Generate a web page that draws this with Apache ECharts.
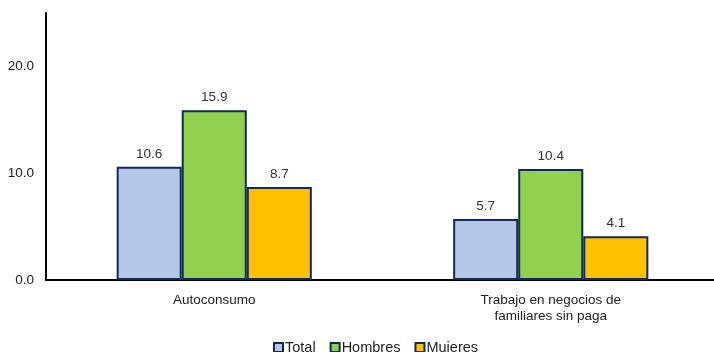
<!DOCTYPE html>
<html>
<head>
<meta charset="utf-8">
<script src="https://cdn.jsdelivr.net/npm/echarts@6/dist/echarts.min.js"></script>
<style>
  html, body { margin: 0; padding: 0; background: #ffffff; }
  #chart { width: 714px; height: 352px; }
</style>
</head>
<body>
<div id="chart"></div>
<script>
// Categories and values (percent)
const categories = ['Autoconsumo', 'Trabajo en negocios de\nfamiliares sin paga'];
const total = [10.6, 5.7];
const hombres = [15.9, 10.4];
const mujeres = [8.7, 4.1];
const seriesNames = ['Total', 'Hombres', 'Mujeres'];
const seriesColors = ['#b4c7e7', '#92d050', '#ffc000'];
const yTicks = [0, 10, 20];

const chart = echarts.init(document.getElementById('chart'));
const borderColor = '#102a5c';
const labelFont = 'Liberation Sans';

function barSeries(name, data, color) {
  return {
    name: name,
    type: 'bar',
    data: data,
    barGap: '0%',
    barCategoryGap: '42%',
    itemStyle: { color: color, borderColor: borderColor, borderWidth: 2 },
    label: {
      show: true,
      position: 'top',
      distance: 6,
      formatter: p => p.value.toFixed(1),
      color: '#333333',
      fontFamily: labelFont,
      fontSize: 13.5
    }
  };
}

chart.setOption({
  animation: false,
  grid: { left: 46, width: 673, top: 13, height: 267, outerBoundsMode: 'none' },
  legend: {
    data: seriesNames,
    top: 335,
    left: 268,
    itemWidth: 9,
    itemHeight: 9,
    itemGap: 14,
    icon: 'rect',
    textStyle: { fontFamily: labelFont, fontSize: 14.5, color: '#222222', padding: [0, 0, 0, -3] }
  },
  xAxis: {
    type: 'category',
    data: categories,
    axisLine: { lineStyle: { color: '#000000', width: 2 } },
    axisTick: { show: false },
    axisLabel: { fontFamily: labelFont, fontSize: 13.5, color: '#222222', margin: 12, lineHeight: 16 }
  },
  yAxis: {
    type: 'value',
    min: 0,
    max: 25,
    interval: 10,
    axisLine: { show: true, lineStyle: { color: '#000000', width: 2 } },
    axisTick: { show: false },
    splitLine: { show: false },
    axisLabel: {
      formatter: v => (yTicks.indexOf(v) >= 0 ? v.toFixed(1) : ''),
      fontFamily: labelFont, fontSize: 13.5, color: '#222222', margin: 12
    }
  },
  series: [
    barSeries(seriesNames[0], total, seriesColors[0]),
    barSeries(seriesNames[1], hombres, seriesColors[1]),
    barSeries(seriesNames[2], mujeres, seriesColors[2])
  ]
});
</script>
</body>
</html>
